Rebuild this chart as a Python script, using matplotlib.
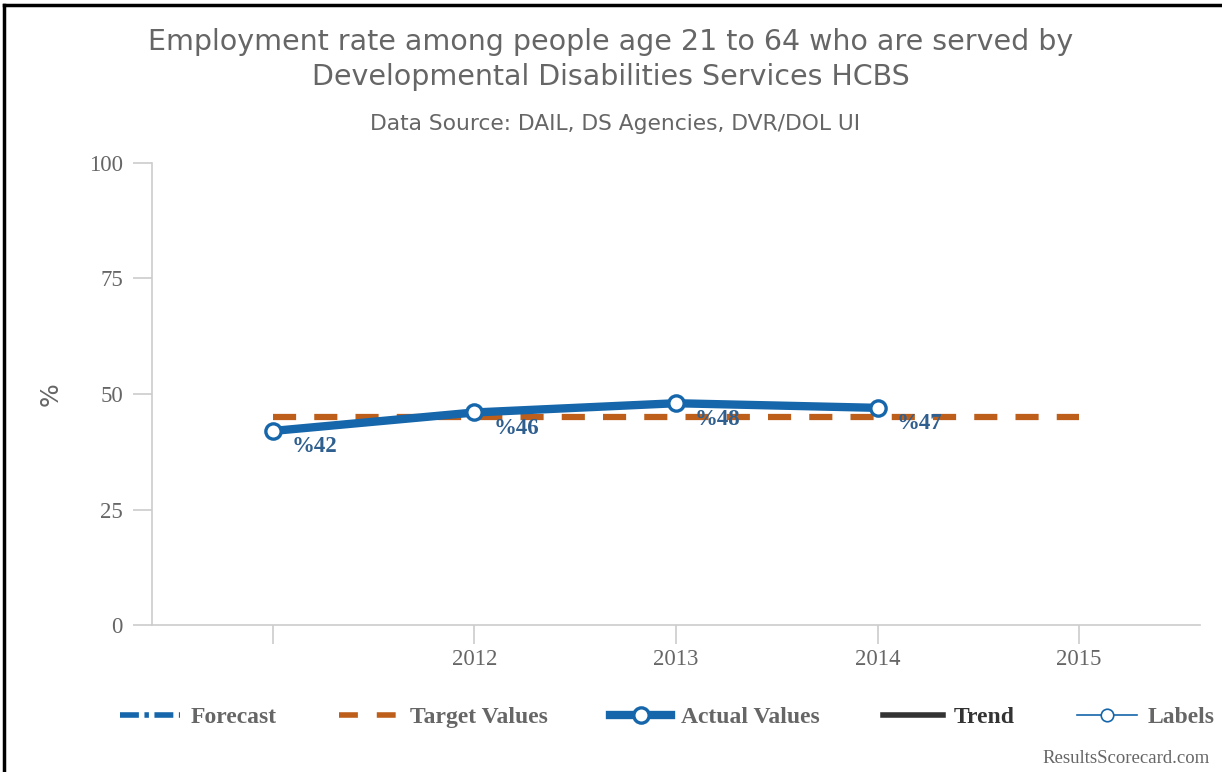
import numpy as np
import matplotlib
matplotlib.use("Agg")
import matplotlib.pyplot as plt
from matplotlib.lines import Line2D

# data
years = ["", "2012", "2013", "2014", "2015"]
actual = [42, 46, 48, 47]
target = [45, 45, 45, 45, 45]
labels = ["%42", "%46", "%48", "%47"]

BLUE = "#1566aa"
ORANGE = "#bd5f1b"
LABEL_BLUE = "#2f5f8f"
GRAY = "#666666"
AXIS = "#cccccc"

fig = plt.figure(figsize=(12.22, 7.72), dpi=100)
ax = fig.add_axes([0.1244, 0.1904, 0.8576, 0.5985])

x = np.arange(len(years))

ax.plot(x[:len(target)], target, color=ORANGE, lw=4.5, dashes=(3.7, 2.9),
        solid_capstyle="butt", dash_capstyle="butt", zorder=2)
ax.plot(x[:len(actual)], actual, color=BLUE, lw=6, marker="o", markersize=11,
        markerfacecolor="white", markeredgecolor=BLUE, markeredgewidth=2.4,
        solid_capstyle="round", zorder=3)

for xi, v, t in zip(x, actual, labels):
    ax.annotate(t, (xi, v), xytext=(13.5, -11.5), textcoords="offset points",
                ha="left", va="center", fontsize=16.5, fontweight="bold",
                family="Liberation Serif", color=LABEL_BLUE, zorder=4)

ax.set_xlim(-0.6, 4.6)
ax.set_ylim(0, 100)
ax.set_yticks([0, 25, 50, 75, 100])
ax.set_xticks(x)
ax.set_xticklabels(years)

for s in ["top", "right"]:
    ax.spines[s].set_visible(False)
for s in ["left", "bottom"]:
    ax.spines[s].set_color(AXIS)
    ax.spines[s].set_linewidth(1.2)

ax.tick_params(axis="y", length=14, width=1.2, color=AXIS, pad=7,
               labelsize=16.5, labelcolor=GRAY)
ax.tick_params(axis="x", length=14, width=1.2, color=AXIS, pad=3,
               labelsize=16.5, labelcolor=GRAY)
for lab in ax.get_xticklabels() + ax.get_yticklabels():
    lab.set_family("Liberation Serif")

ax.set_ylabel("%", fontsize=18, color=GRAY)
ax.yaxis.set_label_coords(-0.085, 0.5)

fig.text(0.5, 0.923, "Employment rate among people age 21 to 64 who are served by\n"
         "Developmental Disabilities Services HCBS",
         ha="center", va="center", fontsize=20.5, color=GRAY, linespacing=1.28)
fig.text(0.503, 0.839, "Data Source: DAIL, DS Agencies, DVR/DOL UI",
         ha="center", va="center", fontsize=15.7, color=GRAY)

handles = [
    Line2D([], [], color=BLUE, lw=4, dashes=(3.4, 1.0, 0.8, 1.0)),
    Line2D([], [], color=ORANGE, lw=4, dashes=(3.4, 3.4)),
    Line2D([], [], color=BLUE, lw=6, marker="o", markersize=11,
           markerfacecolor="white", markeredgecolor=BLUE, markeredgewidth=2.4),
    Line2D([], [], color="#333333", lw=4),
    Line2D([], [], color=BLUE, lw=1.2, marker="o", markersize=9,
           markerfacecolor="white", markeredgecolor=BLUE, markeredgewidth=1.2),
]
names = ["Forecast", "Target Values", "Actual Values", "Trend", "Labels"]
leg = fig.legend(handles, names, loc="center", bbox_to_anchor=(0.546, 0.071),
                 ncol=5, frameon=False, handlelength=2.55, columnspacing=2.65,
                 handletextpad=0.45,
                 prop={"family": "Liberation Serif", "weight": "bold", "size": 17})
for t in leg.get_texts():
    t.set_color(GRAY)
leg.get_texts()[3].set_color("#333333")

fig.text(0.99, 0.018, "ResultsScorecard.com", ha="right", va="center",
         fontsize=13.5, color=GRAY, family="Liberation Serif")

# page border seen at left and top
fig.add_artist(Line2D([0.003, 0.003], [0, 0.994], color="black", lw=2.5,
                      transform=fig.transFigure))
fig.add_artist(Line2D([0.003, 1], [0.994, 0.994], color="black", lw=2.5,
                      transform=fig.transFigure))

fig.savefig("out.png", dpi=100, facecolor="white")
